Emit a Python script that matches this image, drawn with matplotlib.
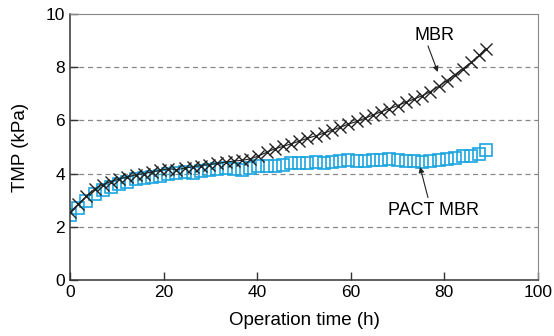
import matplotlib
matplotlib.use('Agg')
import matplotlib.pyplot as plt

plt.rcParams['font.family'] = ['Liberation Sans', 'DejaVu Sans']

# operation time (h)
hours = [0, 1.75, 3.5, 5.25, 7, 8.75, 10.5, 12.25, 14, 15.75, 17.5, 19.25, 21, 22.75,
         24.5, 26.25, 28, 29.75, 31.5, 33.25, 35, 36.75, 38.5, 40.25, 42, 43.75, 45.5,
         47.25, 49, 50.75, 52.5, 54.25, 56, 57.75, 59.5, 61.25, 63, 64.75, 66.5, 68.25,
         70, 71.75, 73.5, 75.25, 77, 78.75, 80.5, 82.25, 84, 85.75, 87.5, 88.8]

# TMP (kPa)
tmp_mbr = [2.55, 2.85, 3.15, 3.42, 3.58, 3.70, 3.80, 3.87, 3.95, 4.00, 4.06, 4.12, 4.18,
           4.15, 4.20, 4.26, 4.30, 4.34, 4.38, 4.43, 4.47, 4.50, 4.55, 4.66, 4.80, 4.93,
           5.02, 5.12, 5.22, 5.33, 5.42, 5.52, 5.63, 5.74, 5.86, 5.96, 6.08, 6.20, 6.33,
           6.43, 6.56, 6.68, 6.80, 6.93, 7.08, 7.28, 7.50, 7.72, 7.95, 8.18, 8.45, 8.70]
tmp_pact = [2.45, 2.70, 2.98, 3.22, 3.38, 3.50, 3.62, 3.70, 3.78, 3.83, 3.88, 3.92, 3.97,
            4.02, 4.05, 4.04, 4.10, 4.14, 4.18, 4.20, 4.16, 4.14, 4.20, 4.28, 4.30, 4.27,
            4.33, 4.38, 4.40, 4.38, 4.42, 4.40, 4.44, 4.48, 4.50, 4.48, 4.47, 4.50, 4.50,
            4.55, 4.52, 4.48, 4.46, 4.44, 4.48, 4.52, 4.55, 4.60, 4.65, 4.68, 4.75, 4.90]

blue = '#1ba6e0'
arrow = dict(arrowstyle='-|>', color='#222222', lw=0.8, shrinkA=0, shrinkB=0, mutation_scale=8)

fig = plt.figure(figsize=(5.54, 3.36), dpi=100)
ax = fig.add_axes([0.1264, 0.1667, 0.8446, 0.7916])

for y in [2, 4, 6, 8]:
    ax.axhline(y, color='#888888', ls=(0, (4, 3)), lw=0.9, zorder=0)

ax.plot(hours, tmp_pact, ls='none', marker='s', ms=8, mfc='none', mec=blue, mew=1.2, zorder=2)
ax.plot(hours, tmp_mbr, color='#222222', lw=0.8, marker='x', ms=9, mec='#222222', mew=1.0, zorder=3)

ax.set_xlim(0, 100)
ax.set_ylim(0, 10)
ax.set_xticks([0, 20, 40, 60, 80, 100])
ax.set_yticks([0, 2, 4, 6, 8, 10])
ax.tick_params(direction='in', length=6, width=1, labelsize=12.5, color='#333333')
for s in ['top', 'right']:
    ax.spines[s].set_color('#888888')
for s in ['left', 'bottom']:
    ax.spines[s].set_color('#333333')
    ax.spines[s].set_linewidth(1.1)

ax.set_xlabel('Operation time (h)', fontsize=13.5, labelpad=9)
ax.set_ylabel('TMP (kPa)', fontsize=13.5, labelpad=12)

# labels + arrows
ax.text(78, 9.2, 'MBR', fontsize=13, ha='center', va='center')
ax.annotate('', xy=(78.6, 7.82), xytext=(76.5, 8.8), arrowprops=arrow)
ax.text(77.6, 2.6, 'PACT MBR', fontsize=13, ha='center', va='center')
ax.annotate('', xy=(74.8, 4.25), xytext=(76.5, 3.1), arrowprops=arrow)

fig.savefig('out.png', dpi=100)
